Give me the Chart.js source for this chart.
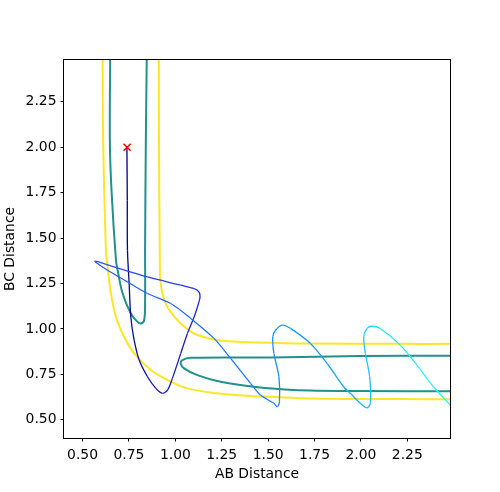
<!DOCTYPE html>
<html>
<head>
<meta charset="utf-8">
<script src="https://cdn.jsdelivr.net/npm/chart.js@4.4.1/dist/chart.umd.min.js"></script>
<style>
  html, body { margin: 0; padding: 0; background: #fff; }
  #wrap { width: 500px; height: 492px; }
</style>
</head>
<body>
<div id="wrap"><canvas id="pes" width="500" height="492"></canvas></div>
<script>
// tick labels
var tickVals = [0.5, 0.75, 1.0, 1.25, 1.5, 1.75, 2.0, 2.25];

// outer contour (yellow), lower-left branch
var yellowLowX = [0.608, 0.611, 0.626, 0.635, 0.653, 0.680, 0.724, 0.778, 0.868, 0.958, 1.065, 1.226, 1.405, 1.513, 1.728, 2.212, 2.50];
var yellowLowY = [2.50, 2.037, 1.433, 1.341, 1.195, 1.066, 0.957, 0.865, 0.774, 0.719, 0.673, 0.646, 0.631, 0.627, 0.618, 0.614, 0.613];

// outer contour (yellow), upper-right branch
var yellowHighX = [0.911, 0.912, 0.916, 0.921, 0.948, 0.975, 1.029, 1.101, 1.208, 1.334, 1.513, 1.728, 2.212, 2.50];
var yellowHighY = [2.50, 2.037, 1.433, 1.250, 1.140, 1.094, 1.030, 0.975, 0.942, 0.929, 0.924, 0.920, 0.918, 0.918];

// inner contour (teal), entrance channel
var tealUpX = [0.649, 0.647, 0.656, 0.680, 0.689, 0.716, 0.760, 0.796, 0.814, 0.832, 0.837, 0.837, 0.841, 0.846];
var tealUpY = [2.50, 2.037, 1.763, 1.378, 1.323, 1.195, 1.085, 1.039, 1.030, 1.048, 1.158, 1.433, 2.037, 2.50];

// inner contour (teal), exit channel
var tealOutX = [2.50, 1.997, 1.513, 1.083, 1.038, 1.029, 1.047, 1.119, 1.244, 1.423, 1.637, 1.997, 2.50];
var tealOutY = [0.852, 0.851, 0.843, 0.841, 0.829, 0.810, 0.783, 0.746, 0.709, 0.682, 0.664, 0.658, 0.657];

// trajectory
var trajX = [0.739, 0.741, 0.742, 0.751, 0.760, 0.778, 0.805, 0.850, 0.895, 0.931, 0.958, 0.984, 1.029, 1.065, 1.101, 1.119, 1.133, 1.127, 1.101, 1.029,
             0.850, 0.670, 0.567, 0.635, 0.742, 0.850, 0.975, 1.083, 1.208, 1.298, 1.405, 1.459, 1.531, 1.549, 1.561, 1.558, 1.531, 1.525, 1.540, 1.576,
             1.620, 1.728, 1.818, 1.907, 1.943, 1.997, 2.033, 2.051, 2.047, 2.024, 2.015, 2.033, 2.060, 2.104, 2.212, 2.302, 2.391, 2.50];
var trajY = [2.002, 1.708, 1.433, 1.250, 1.066, 0.938, 0.829, 0.737, 0.673, 0.646, 0.664, 0.728, 0.865, 0.975, 1.066, 1.121, 1.176, 1.204, 1.222, 1.241,
             1.286, 1.341, 1.373, 1.323, 1.259, 1.195, 1.140, 1.058, 0.948, 0.838, 0.701, 0.636, 0.591, 0.572, 0.599, 0.737, 0.865, 0.957, 0.993, 1.021,
             1.003, 0.920, 0.810, 0.682, 0.646, 0.591, 0.566, 0.591, 0.737, 0.865, 0.957, 1.003, 1.015, 1.003, 0.911, 0.801, 0.682, 0.560];

var startX = 0.74;
var startY = 2.0;

// colour ramp along the trajectory: [point index, r, g, b]
var trajColorStops = [[0, 0, 0, 128], [9, 24, 24, 168], [17, 40, 40, 225], [22, 44, 85, 255], [31, 30, 128, 255],
                      [40, 26, 152, 255], [50, 32, 200, 255], [57, 48, 255, 255]];

function pts(xs, ys) {
    var out = [];
    for (var i = 0; i < xs.length; i++) {
        out.push({x: xs[i], y: ys[i]});
    }
    return out;
}

function rampColor(idx) {
    var s = trajColorStops;
    for (var i = 0; i < s.length - 1; i++) {
        if (idx <= s[i + 1][0]) {
            var f = (idx - s[i][0]) / (s[i + 1][0] - s[i][0]);
            var c = [1, 2, 3].map(function (k) { return Math.round(s[i][k] + f * (s[i + 1][k] - s[i][k])); });
            return 'rgb(' + c.join(',') + ')';
        }
    }
    var l = s[s.length - 1];
    return 'rgb(' + l[1] + ',' + l[2] + ',' + l[3] + ')';
}

var frame = {
    id: 'frame',
    afterDatasetsDraw: function (chart) {
        var a = chart.chartArea;
        var ctx = chart.ctx;
        ctx.save();
        ctx.strokeStyle = '#000';
        ctx.lineWidth = 1;
        ctx.strokeRect(Math.round(a.left) - 0.5, Math.round(a.top) - 0.5, Math.round(a.right - a.left) + 1, Math.round(a.bottom - a.top) + 1);
        ctx.restore();
    }
};

function axis(title, fitFn, pad, tickPad) {
    return {
        type: 'linear',
        min: 0.4,
        max: 2.48,
        afterBuildTicks: function (s) {
            s.ticks = tickVals.map(function (v) { return {value: v}; });
        },
        afterFit: fitFn,
        border: {display: false},
        grid: {display: true, drawOnChartArea: false, tickLength: 3.5, color: '#000', tickWidth: 1},
        ticks: {
            color: '#000',
            padding: tickPad,
            maxRotation: 0,
            autoSkip: false,
            font: {family: 'DejaVu Sans', size: 13.9},
            callback: function (v) { return Number(v).toFixed(2); }
        },
        title: {
            display: true,
            text: title,
            color: '#000',
            padding: pad,
            font: {family: 'DejaVu Sans', size: 13.9}
        }
    };
}

new Chart(document.getElementById('pes'), {
    type: 'line',
    data: {
        datasets: [
            {
                label: 'start',
                data: [{x: startX, y: startY}],
                showLine: false,
                pointStyle: 'crossRot',
                pointRadius: 5,
                borderColor: '#ff0000',
                backgroundColor: '#ff0000',
                pointBorderWidth: 1.5
            },
            {
                label: 'trajectory',
                data: pts(trajX, trajY),
                borderWidth: 1.3,
                pointRadius: 0,
                tension: 0.3,
                borderColor: '#0000ff',
                segment: {
                    borderColor: function (c) { return rampColor(c.p0DataIndex + 0.5); }
                }
            },
            {label: 'c2a', data: pts(yellowLowX, yellowLowY), borderColor: '#fde725', borderWidth: 2, pointRadius: 0, tension: 0.35},
            {label: 'c2b', data: pts(yellowHighX, yellowHighY), borderColor: '#fde725', borderWidth: 2, pointRadius: 0, tension: 0.35},
            {label: 'c1a', data: pts(tealUpX, tealUpY), borderColor: '#21918c', borderWidth: 2, pointRadius: 0, tension: 0.35},
            {label: 'c1b', data: pts(tealOutX, tealOutY), borderColor: '#21918c', borderWidth: 2, pointRadius: 0, tension: 0.35}
        ]
    },
    options: {
        responsive: false,
        animation: false,
        parsing: false,
        layout: {padding: {top: 60, right: 50, left: 0, bottom: 0}},
        plugins: {legend: {display: false}, tooltip: {enabled: false}},
        scales: {
            x: axis('AB Distance', function (s) { s.height = 54; }, {top: 2, bottom: 9}, 6),
            y: axis('BC Distance', function (s) { s.width = 64; }, {top: 2, bottom: 2}, 4)
        }
    },
    plugins: [frame]
});
</script>
</body>
</html>
